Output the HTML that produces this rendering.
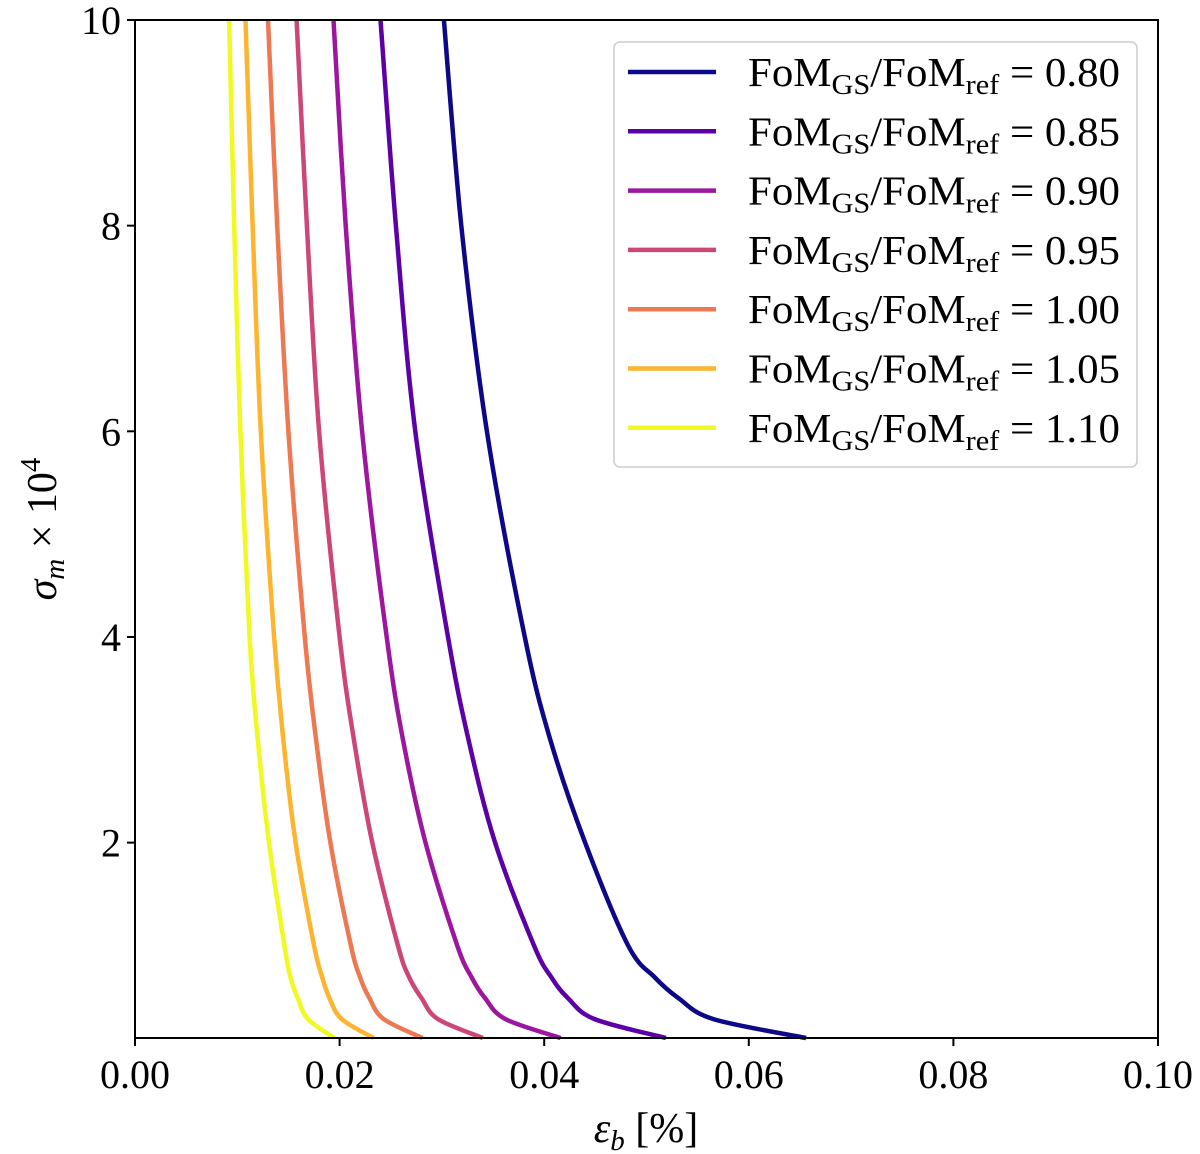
<!DOCTYPE html>
<html><head><meta charset="utf-8"><style>
html,body{margin:0;padding:0;background:#fff;}
svg{display:block;font-family:"Liberation Serif","DejaVu Serif",serif;}
</style></head><body>
<svg id="chart" width="1200" height="1154" viewBox="0 0 1200 1154" xmlns="http://www.w3.org/2000/svg">
<g id="ticks"></g>
<g id="series"></g>
<rect x="135" y="20" width="1023" height="1018" fill="none" stroke="#000" stroke-width="2"/>
<text x="646" y="1142" font-size="42" text-anchor="middle"><tspan font-style="italic">ε<tspan font-size="29" dy="8">b</tspan></tspan><tspan dy="-8"> [%]</tspan></text>
<text transform="translate(56,529) rotate(-90)" font-size="42" text-anchor="middle"><tspan font-style="italic">σ<tspan font-size="29" dy="8">m</tspan></tspan><tspan dy="-8"> × 10</tspan><tspan font-size="29" dy="-16">4</tspan></text>
<g id="legend">
<rect x="614" y="42" width="523" height="425" rx="6" fill="#fff" stroke="#ccc" stroke-width="1.5"/>
</g>
</svg>
<script>
const sigmaGrid = [0.1, 0.285, 0.49, 0.69, 1, 2, 3, 4, 6, 8, 10];
const ratios = ["0.80","0.85","0.90","0.95","1.00","1.05","1.10"];
const colors = ["#0d0887","#5c01a6","#9c179e","#cc4778","#ed7953","#fdb42f","#f0f921"];
const eps080 = [0.0656,0.0565,0.0531,0.0508,0.0482,0.0440,0.0406,0.0381,0.0344,0.0319,0.0302];
const eps085 = [0.0519,0.0449,0.0423,0.0407,0.0390,0.0352,0.0326,0.0306,0.0274,0.0255,0.0240];
const eps090 = [0.0416,0.0362,0.0342,0.0329,0.0315,0.0284,0.0262,0.0246,0.0222,0.0206,0.0194];
const eps095 = [0.0340,0.0296,0.0280,0.0268,0.0257,0.0232,0.0214,0.0200,0.0180,0.0168,0.0158];
const eps100 = [0.0281,0.0243,0.0229,0.0220,0.0211,0.0191,0.0177,0.0166,0.0150,0.0139,0.0130];
const eps105 = [0.0233,0.0202,0.0190,0.0183,0.0175,0.0157,0.0145,0.0136,0.0123,0.0115,0.0108];
const eps110 = [0.0195,0.0169,0.0159,0.0152,0.0146,0.0131,0.0120,0.0112,0.0103,0.0097,0.0092];
const allSeries = [eps080,eps085,eps090,eps095,eps100,eps105,eps110];
const xTicks = [0.00,0.02,0.04,0.06,0.08,0.10];
const xTickLabels = ["0.00","0.02","0.04","0.06","0.08","0.10"];
const yTicks = [2,4,6,8,10];
const yTickLabels = ["2","4","6","8","10"];

const NS="http://www.w3.org/2000/svg";
const X0=135,X1=1158,Y0=1038,Y1=20,XMIN=0,XMAX=0.1,YMIN=0.1,YMAX=10;
function sx(v){return X0+(v-XMIN)/(XMAX-XMIN)*(X1-X0);}
function sy(v){return Y0-(v-YMIN)/(YMAX-YMIN)*(Y0-Y1);}
function mk(t,a){const e=document.createElementNS(NS,t);for(const k in a)e.setAttribute(k,a[k]);return e;}

const tg=document.getElementById('ticks');
xTicks.forEach((v,i)=>{
  const l=mk('line',{x1:sx(v),x2:sx(v),y1:Y0,y2:Y0+8,stroke:'#000','stroke-width':2});
  
  
  tg.appendChild(l);
  const t=mk('text',{x:sx(v),y:Y0+50,'font-size':40,'text-anchor':'middle'});
  
  
  t.textContent=xTickLabels[i];tg.appendChild(t);
});
yTicks.forEach((v,i)=>{
  const l=mk('line',{x1:X0-8,x2:X0,y1:sy(v),y2:sy(v),stroke:'#000','stroke-width':2});
  
  
  tg.appendChild(l);
  const t=mk('text',{x:X0-14,y:sy(v)+14,'font-size':40,'text-anchor':'end'});
  
  
  t.textContent=yTickLabels[i];tg.appendChild(t);
});

function smoothPath(p){
  let d='M'+p[0][0].toFixed(1)+','+p[0][1].toFixed(1);
  for(let i=0;i<p.length-1;i++){
    const a=p[Math.max(i-1,0)],b=p[i],c=p[i+1],e=p[Math.min(i+2,p.length-1)];
    const c1=[b[0]+(c[0]-a[0])/6,b[1]+(c[1]-a[1])/6];
    const c2=[c[0]-(e[0]-b[0])/6,c[1]-(e[1]-b[1])/6];
    d+=' C'+c1[0].toFixed(1)+','+c1[1].toFixed(1)+' '+c2[0].toFixed(1)+','+c2[1].toFixed(1)+' '+c[0].toFixed(1)+','+c[1].toFixed(1);
  }
  return d;
}
const sg=document.getElementById('series');
allSeries.forEach((s,i)=>{
  const pts=s.map((e,j)=>[sx(e),sy(sigmaGrid[j])]);
  const p=mk('path',{d:smoothPath(pts),fill:'none',stroke:colors[i],'stroke-width':4.5,'stroke-linejoin':'round'});
  
  
  sg.appendChild(p);
});

const lg=document.getElementById('legend');
ratios.forEach((r,i)=>{
  const y=72+i*59.3;
  const l=mk('line',{x1:628,x2:716,y1:y,y2:y,stroke:colors[i],'stroke-width':4.5});
  
  
  lg.appendChild(l);
  const t=mk('text',{x:748,y:y+14,'font-size':41,textLength:372,lengthAdjust:'spacingAndGlyphs'});
  
  
  t.innerHTML='FoM<tspan font-size="29" dy="8">GS</tspan><tspan dy="-8">/FoM</tspan><tspan font-size="29" dy="8">ref</tspan><tspan dy="-8"> = '+r+'</tspan>';
  lg.appendChild(t);
});
</script>
</body></html>
